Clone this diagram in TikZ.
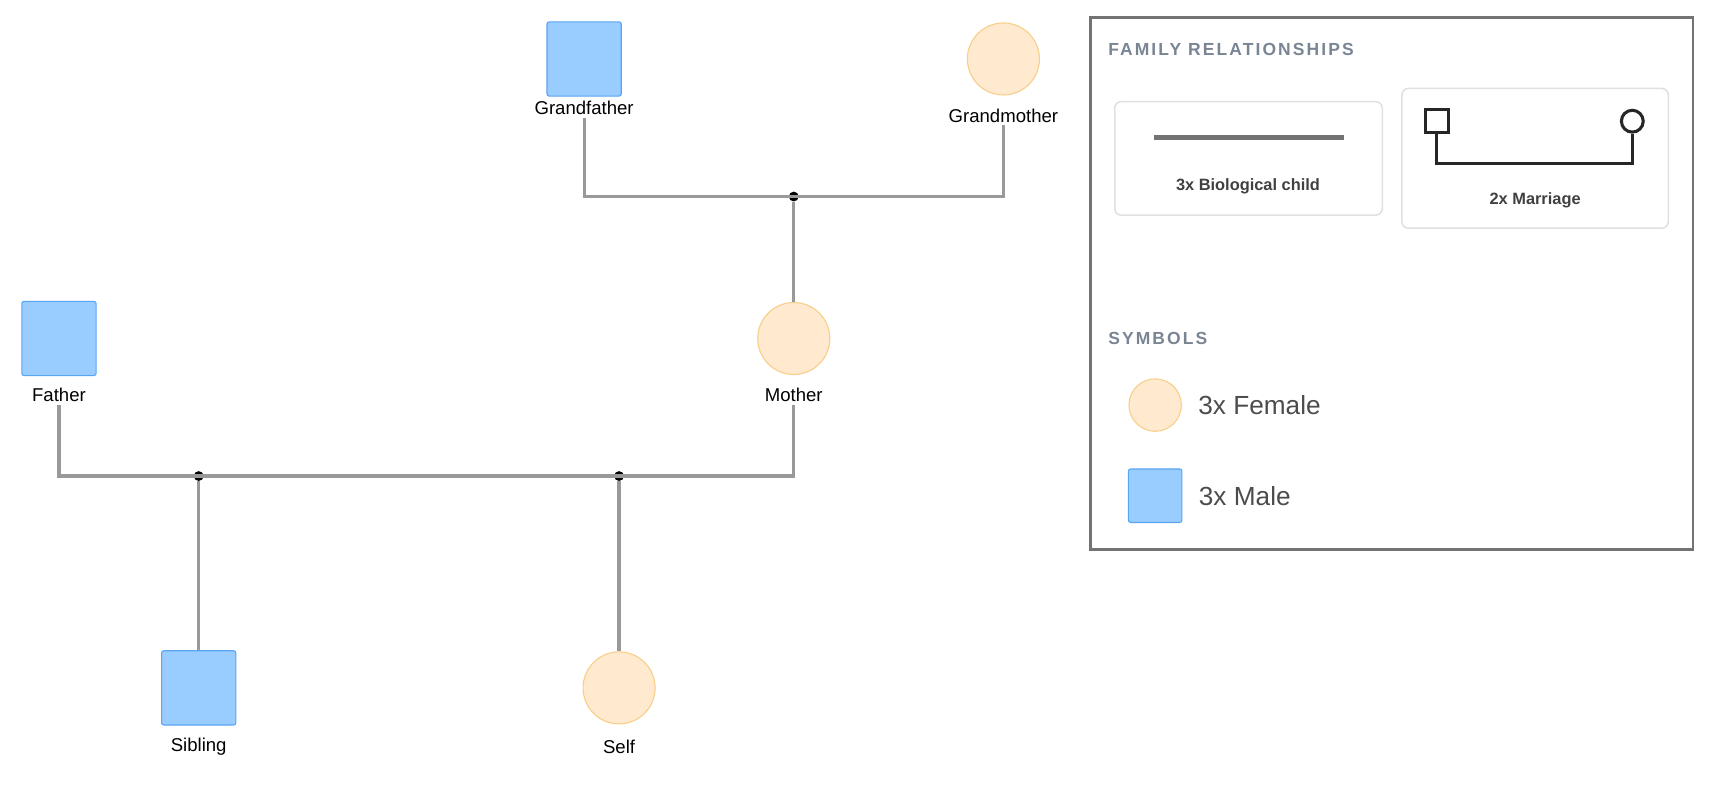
\documentclass[tikz,border=0pt]{standalone}
\usepackage{fontspec}
\setmainfont{Liberation Sans}
\usetikzlibrary{positioning}
\definecolor{malefill}{HTML}{99CCFF}
\definecolor{maledraw}{HTML}{5AA5F0}
\definecolor{femfill}{HTML}{FFE9CF}
\definecolor{femdraw}{HTML}{F8CF8A}
\definecolor{linegray}{HTML}{999999}
\definecolor{headgray}{HTML}{7A8594}
\tikzset{male/.style = {
  rectangle, rounded corners=1pt,
  minimum size=34pt, inner sep=0pt,
  fill=malefill, draw=maledraw, line width=0.5pt
  }}
\tikzset{female/.style = {
  circle, minimum size=33pt, inner sep=0pt,
  fill=femfill, draw=femdraw, line width=0.5pt
  }}
\tikzset{lbl/.style = {
  font=\fontsize{8.5}{10}\selectfont, inner sep=1pt
  }}
\tikzset{link/.style = {
  draw=linegray, line width=1.5pt
  }}
\tikzset{dot/.style = {
  circle, fill=black, minimum size=4.5pt, inner sep=0pt
  }}
\tikzset{card/.style = {
  draw=black!12, line width=0.7pt, rounded corners=3pt
  }}
\tikzset{head/.style = {
  anchor=west, text=headgray,
  font=\fontsize{8}{10}\selectfont\bfseries\addfontfeature{LetterSpace=12}
  }}

\begin{document}
\begin{tikzpicture}[x=0.5pt, y=-0.5pt]
\useasboundingbox (0,0) rectangle (1568,719);

% PEOPLE
\node (gfa) [male] at (535,54) {};
\node (gfaL) [lbl, below=1pt of gfa] {Grandfather};
\node (gmo) [female] at (919,54) {};
\node (gmoL) [lbl] at (919,106) {Grandmother};
\node (mo) [female] at (727,310) {};
\node (moL) [lbl] at (727,362) {Mother};
\node (fa) [male] at (54,310) {};
\node (faL) [lbl] at (54,362) {Father};
\node (sib) [male] at (182,630) {};
\node (sibL) [lbl] at (182,684) {Sibling};
\node (self) [female] at (567,630) {};
\node (selfL) [lbl] at (567,684) {Self};

% junctions
\node (u1) [dot] at (727,180) {};
\node (u2) [dot] at (182,436) {};
\node (u3) [dot] at (567,436) {};

% lines
\draw [link] (gfaL) -- (535,180) -- (919,180) -- (gmoL);
\draw [link] (u1) -- (mo);
\draw [link] (faL) -- (54,436) -- (727,436) -- (moL);
\draw [link] (u2) -- (sib);
\draw [link] (u3) -- (self);

% LEGEND
\node (legend) [draw=black!55, line width=1.2pt, minimum width=276pt, minimum height=243.5pt, inner sep=0pt] at (1274.5,259.5) {};
\node (relH) [head] at (1008,45) {FAMILY RELATIONSHIPS};
\node (card1) [card, minimum width=122.5pt, minimum height=52pt] at (1143.5,145) {};
\node (card2) [card, minimum width=122pt, minimum height=64pt] at (1406,145) {};
\coordinate (bioA) at (1057,126);
\coordinate (bioB) at (1231,126);
\draw [draw=black!55, line width=2.5pt] (bioA) -- (bioB);
\node (bioL) [lbl, font=\fontsize{7.5}{9}\selectfont\bfseries, text=black!75] at (1143,171) {3x Biological child};
\node (mSq) [draw=black!85, line width=1.4pt, minimum size=10.5pt, inner sep=0pt] at (1316,111) {};
\node (mCi) [circle, draw=black!85, line width=1.4pt, minimum size=10pt, inner sep=0pt] at (1495,111) {};
\draw [draw=black!85, line width=1.4pt] (mSq) -- (1316,150) -- (1495,150) -- (mCi);
\node (marL) [lbl, font=\fontsize{7.5}{9}\selectfont\bfseries, text=black!75] at (1406,183) {2x Marriage};
\node (symH) [head] at (1008,310) {SYMBOLS};
\node (fKey) [female, minimum size=24pt] at (1058,371) {};
\node (fKeyL) [anchor=west, text=black!70, font=\fontsize{12}{14}\selectfont, right=4pt of fKey] {3x Female};
\node (mKey) [male, minimum size=24.5pt] at (1058,454) {};
\node (mKeyL) [anchor=west, text=black!70, font=\fontsize{12}{14}\selectfont, right=4pt of mKey] {3x Male};
\end{tikzpicture}
\end{document}
